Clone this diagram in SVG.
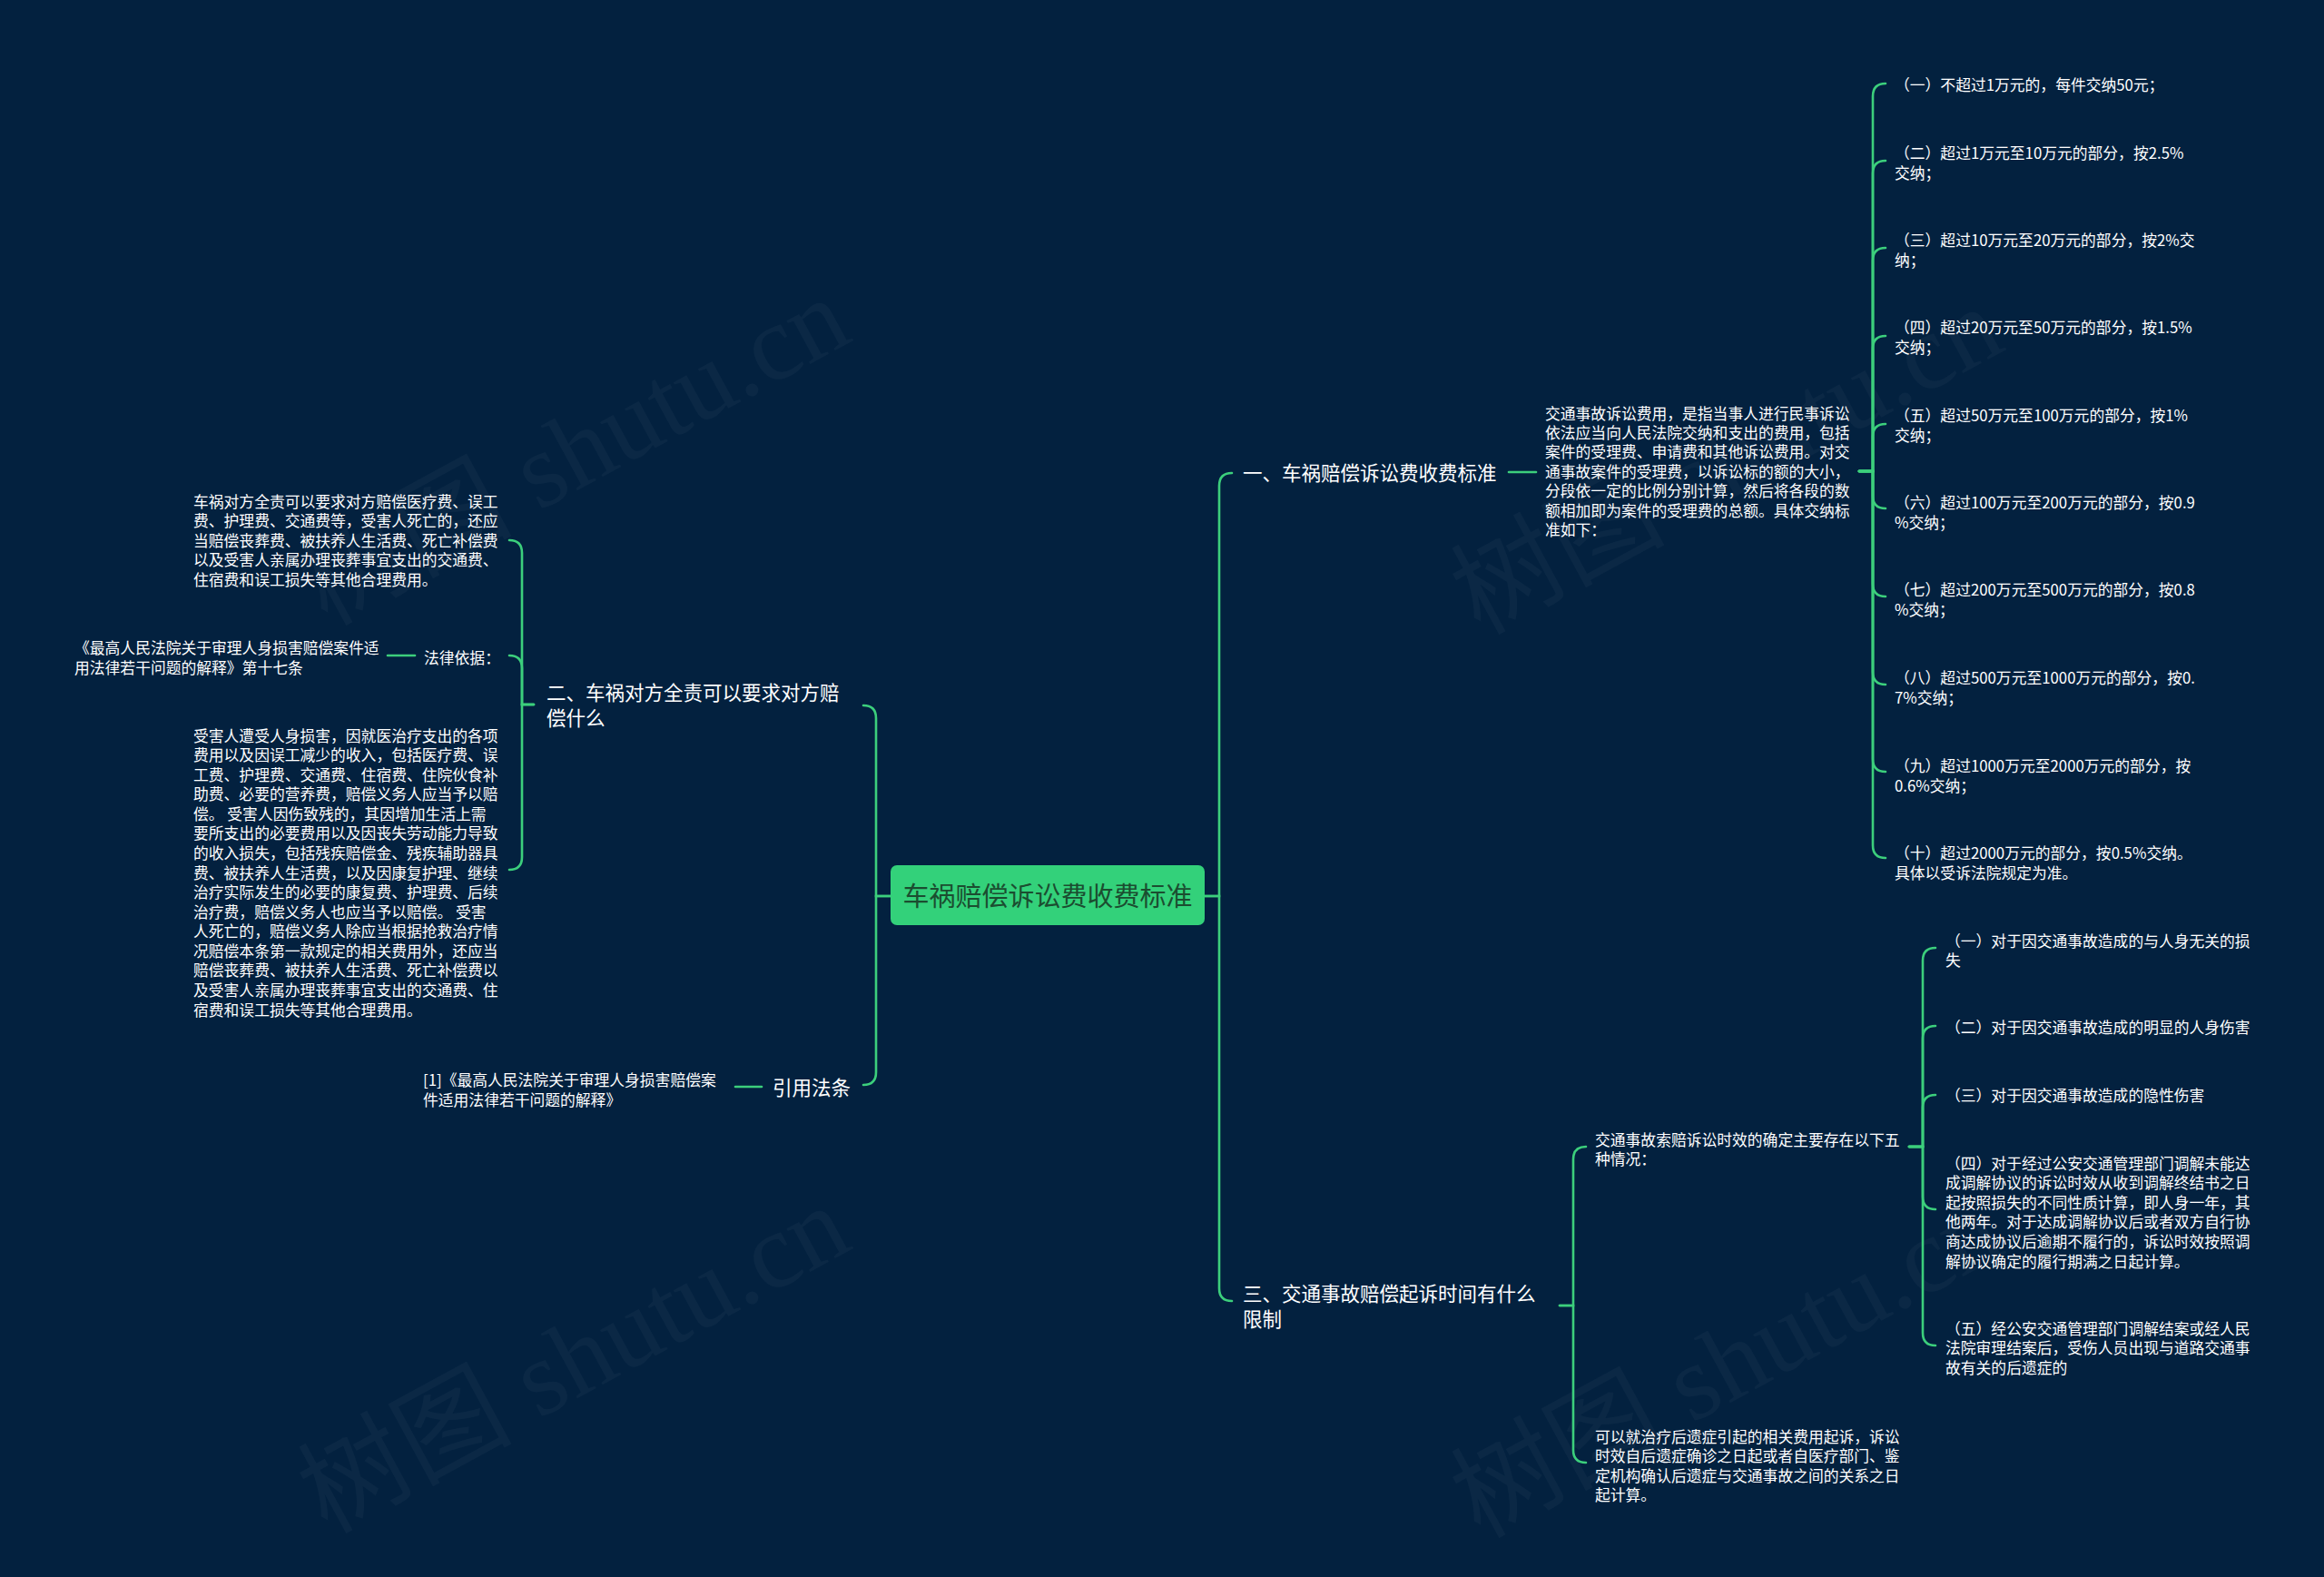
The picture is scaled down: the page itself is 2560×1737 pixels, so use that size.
<svg xmlns="http://www.w3.org/2000/svg" width="2560" height="1737" viewBox="0 0 2560 1737">
<style>
.bg{fill:#03213f}
.ln{fill:none;stroke:#3ccf7c;stroke-width:2.6;stroke-linecap:round}
.t{font-family:"Noto Sans CJK SC","Noto Sans",sans-serif;fill:#ffffff}
.s{font-size:16.8px}
.b{font-size:21.5px}
.r{font-size:29px;fill:#1b4d30}
.wm{font-family:"Liberation Serif","Noto Sans CJK SC",serif;font-size:118px;fill:#ffffff;fill-opacity:0.035}
</style>
<rect class="bg" x="0" y="0" width="2560" height="1737"/>
<g id="watermarks">
<text class="wm" transform="translate(360,690) rotate(-28.5)">树图 shutu.cn</text>
<text class="wm" transform="translate(360,1690) rotate(-28.5)">树图 shutu.cn</text>
<text class="wm" transform="translate(1630,700) rotate(-28.5)">树图 shutu.cn</text>
<text class="wm" transform="translate(1630,1695) rotate(-28.5)">树图 shutu.cn</text>
</g>
<g id="connectors">
<path class="ln" d="M1327,987 H1343 V535 Q1343,521 1357,521"/>
<path class="ln" d="M1327,987 H1343 V1419 Q1343,1433 1357,1433"/>
<path class="ln" d="M981,987 H965 V791 Q965,777 951,777"/>
<path class="ln" d="M981,987 H965 V1181 Q965,1195 951,1195"/>
<path class="ln" d="M1662,520 H1692"/>
<path class="ln" d="M2048,519 H2063 V106 Q2063,92 2077,92"/>
<path class="ln" d="M2048,519 H2063 V191 Q2063,177 2077,177"/>
<path class="ln" d="M2048,519 H2063 V287 Q2063,273 2077,273"/>
<path class="ln" d="M2048,519 H2063 V384 Q2063,370 2077,370"/>
<path class="ln" d="M2048,519 H2063 V481 Q2063,467 2077,467"/>
<path class="ln" d="M2048,519 H2063 V546 Q2063,560 2077,560"/>
<path class="ln" d="M2048,519 H2063 V643 Q2063,657 2077,657"/>
<path class="ln" d="M2048,519 H2063 V740 Q2063,754 2077,754"/>
<path class="ln" d="M2048,519 H2063 V836 Q2063,850 2077,850"/>
<path class="ln" d="M2048,519 H2063 V931 Q2063,945 2077,945"/>
<path class="ln" d="M1718,1438 H1733 V1277 Q1733,1263 1747,1263"/>
<path class="ln" d="M1718,1438 H1733 V1597 Q1733,1611 1747,1611"/>
<path class="ln" d="M2103,1263 H2118 V1058 Q2118,1044 2132,1044"/>
<path class="ln" d="M2103,1263 H2118 V1144 Q2118,1130 2132,1130"/>
<path class="ln" d="M2103,1263 H2118 V1220 Q2118,1206 2132,1206"/>
<path class="ln" d="M2103,1263 H2118 V1318 Q2118,1332 2132,1332"/>
<path class="ln" d="M2103,1263 H2118 V1468 Q2118,1482 2132,1482"/>
<path class="ln" d="M588,776 H575 V609 Q575,595 561,595"/>
<path class="ln" d="M588,776 H575 V736 Q575,722 561,722"/>
<path class="ln" d="M588,776 H575 V944 Q575,958 561,958"/>
<path class="ln" d="M457,722 H427"/>
<path class="ln" d="M839,1197 H810"/>
</g>
<g id="root">
<rect x="981" y="953" width="346" height="66" rx="7" fill="#33d17a"/>
<text class="t r" x="1154" y="997.5" text-anchor="middle">车祸赔偿诉讼费收费标准</text>
</g>
<g id="branch1">
<text class="t b" x="1369" y="529">一、车祸赔偿诉讼费收费标准</text>
</g>
<g id="branch2">
<text class="t b"><tspan x="602" y="771">二、车祸对方全责可以要求对方赔</tspan><tspan x="602" y="799">偿什么</tspan></text>
</g>
<g id="branch3">
<text class="t b"><tspan x="1369" y="1433">三、交通事故赔偿起诉时间有什么</tspan><tspan x="1369" y="1461">限制</tspan></text>
</g>
<g id="branch4">
<text class="t b" x="851" y="1206">引用法条</text>
</g>
<g id="fee-desc">
<text class="t s">
<tspan x="1702" y="461.5">交通事故诉讼费用，是指当事人进行民事诉讼</tspan>
<tspan x="1702" y="482.9">依法应当向人民法院交纳和支出的费用，包括</tspan>
<tspan x="1702" y="504.3">案件的受理费、申请费和其他诉讼费用。对交</tspan>
<tspan x="1702" y="525.7">通事故案件的受理费，以诉讼标的额的大小，</tspan>
<tspan x="1702" y="547.1">分段依一定的比例分别计算，然后将各段的数</tspan>
<tspan x="1702" y="568.5">额相加即为案件的受理费的总额。具体交纳标</tspan>
<tspan x="1702" y="589.9">准如下：</tspan>
</text>
</g>
<g id="fee1"><text class="t s" x="2087" y="99.5">（一）不超过1万元的，每件交纳50元；</text></g>
<g id="fee2"><text class="t s"><tspan x="2087" y="174.5">（二）超过1万元至10万元的部分，按2.5%</tspan><tspan x="2087" y="196.5">交纳；</tspan></text></g>
<g id="fee3"><text class="t s"><tspan x="2087" y="270.5">（三）超过10万元至20万元的部分，按2%交</tspan><tspan x="2087" y="292.5">纳；</tspan></text></g>
<g id="fee4"><text class="t s"><tspan x="2087" y="366.5">（四）超过20万元至50万元的部分，按1.5%</tspan><tspan x="2087" y="388.5">交纳；</tspan></text></g>
<g id="fee5"><text class="t s"><tspan x="2087" y="463.5">（五）超过50万元至100万元的部分，按1%</tspan><tspan x="2087" y="485.5">交纳；</tspan></text></g>
<g id="fee6"><text class="t s"><tspan x="2087" y="559.5">（六）超过100万元至200万元的部分，按0.9</tspan><tspan x="2087" y="581.5">%交纳；</tspan></text></g>
<g id="fee7"><text class="t s"><tspan x="2087" y="655.5">（七）超过200万元至500万元的部分，按0.8</tspan><tspan x="2087" y="677.5">%交纳；</tspan></text></g>
<g id="fee8"><text class="t s"><tspan x="2087" y="752.5">（八）超过500万元至1000万元的部分，按0.</tspan><tspan x="2087" y="774.5">7%交纳；</tspan></text></g>
<g id="fee9"><text class="t s"><tspan x="2087" y="849.5">（九）超过1000万元至2000万元的部分，按</tspan><tspan x="2087" y="871.5">0.6%交纳；</tspan></text></g>
<g id="fee10"><text class="t s"><tspan x="2087" y="945.5">（十）超过2000万元的部分，按0.5%交纳。</tspan><tspan x="2087" y="967.5">具体以受诉法院规定为准。</tspan></text></g>
<g id="limit-desc">
<text class="t s"><tspan x="1757" y="1261.5">交通事故索赔诉讼时效的确定主要存在以下五</tspan><tspan x="1757" y="1283">种情况：</tspan></text>
</g>
<g id="limit-sequela">
<text class="t s">
<tspan x="1757" y="1588.5">可以就治疗后遗症引起的相关费用起诉，诉讼</tspan>
<tspan x="1757" y="1610.1">时效自后遗症确诊之日起或者自医疗部门、鉴</tspan>
<tspan x="1757" y="1631.7">定机构确认后遗症与交通事故之间的关系之日</tspan>
<tspan x="1757" y="1653.3">起计算。</tspan>
</text>
</g>
<g id="case1"><text class="t s"><tspan x="2143" y="1042.5">（一）对于因交通事故造成的与人身无关的损</tspan><tspan x="2143" y="1064">失</tspan></text></g>
<g id="case2"><text class="t s" x="2143" y="1137.5">（二）对于因交通事故造成的明显的人身伤害</text></g>
<g id="case3"><text class="t s" x="2143" y="1212.5">（三）对于因交通事故造成的隐性伤害</text></g>
<g id="case4">
<text class="t s">
<tspan x="2143" y="1287.5">（四）对于经过公安交通管理部门调解未能达</tspan>
<tspan x="2143" y="1309.1">成调解协议的诉讼时效从收到调解终结书之日</tspan>
<tspan x="2143" y="1330.7">起按照损失的不同性质计算，即人身一年，其</tspan>
<tspan x="2143" y="1352.3">他两年。对于达成调解协议后或者双方自行协</tspan>
<tspan x="2143" y="1373.9">商达成协议后逾期不履行的，诉讼时效按照调</tspan>
<tspan x="2143" y="1395.5">解协议确定的履行期满之日起计算。</tspan>
</text>
</g>
<g id="case5">
<text class="t s">
<tspan x="2143" y="1469.5">（五）经公安交通管理部门调解结案或经人民</tspan>
<tspan x="2143" y="1491.3">法院审理结案后，受伤人员出现与道路交通事</tspan>
<tspan x="2143" y="1513.1">故有关的后遗症的</tspan>
</text>
</g>
<g id="compensation-summary">
<text class="t s">
<tspan x="213" y="558.5">车祸对方全责可以要求对方赔偿医疗费、误工</tspan>
<tspan x="213" y="580">费、护理费、交通费等，受害人死亡的，还应</tspan>
<tspan x="213" y="601.5">当赔偿丧葬费、被扶养人生活费、死亡补偿费</tspan>
<tspan x="213" y="623">以及受害人亲属办理丧葬事宜支出的交通费、</tspan>
<tspan x="213" y="644.5">住宿费和误工损失等其他合理费用。</tspan>
</text>
</g>
<g id="legal-basis"><text class="t s" x="467" y="731">法律依据：</text></g>
<g id="legal-source">
<text class="t s"><tspan x="82" y="719.5">《最高人民法院关于审理人身损害赔偿案件适</tspan><tspan x="82" y="741.5">用法律若干问题的解释》第十七条</tspan></text>
</g>
<g id="compensation-detail">
<text class="t s">
<tspan x="213" y="816.5">受害人遭受人身损害，因就医治疗支出的各项</tspan>
<tspan x="213" y="838.1">费用以及因误工减少的收入，包括医疗费、误</tspan>
<tspan x="213" y="859.6">工费、护理费、交通费、住宿费、住院伙食补</tspan>
<tspan x="213" y="881.2">助费、必要的营养费，赔偿义务人应当予以赔</tspan>
<tspan x="213" y="902.8">偿。 受害人因伤致残的，其因增加生活上需</tspan>
<tspan x="213" y="924.4">要所支出的必要费用以及因丧失劳动能力导致</tspan>
<tspan x="213" y="945.9">的收入损失，包括残疾赔偿金、残疾辅助器具</tspan>
<tspan x="213" y="967.5">费、被扶养人生活费，以及因康复护理、继续</tspan>
<tspan x="213" y="989.1">治疗实际发生的必要的康复费、护理费、后续</tspan>
<tspan x="213" y="1010.6">治疗费，赔偿义务人也应当予以赔偿。 受害</tspan>
<tspan x="213" y="1032.2">人死亡的，赔偿义务人除应当根据抢救治疗情</tspan>
<tspan x="213" y="1053.8">况赔偿本条第一款规定的相关费用外，还应当</tspan>
<tspan x="213" y="1075.4">赔偿丧葬费、被扶养人生活费、死亡补偿费以</tspan>
<tspan x="213" y="1096.9">及受害人亲属办理丧葬事宜支出的交通费、住</tspan>
<tspan x="213" y="1118.5">宿费和误工损失等其他合理费用。</tspan>
</text>
</g>
<g id="citation">
<text class="t s"><tspan x="466" y="1195.5">[1]《最高人民法院关于审理人身损害赔偿案</tspan><tspan x="466" y="1217.5">件适用法律若干问题的解释》</tspan></text>
</g>
</svg>
